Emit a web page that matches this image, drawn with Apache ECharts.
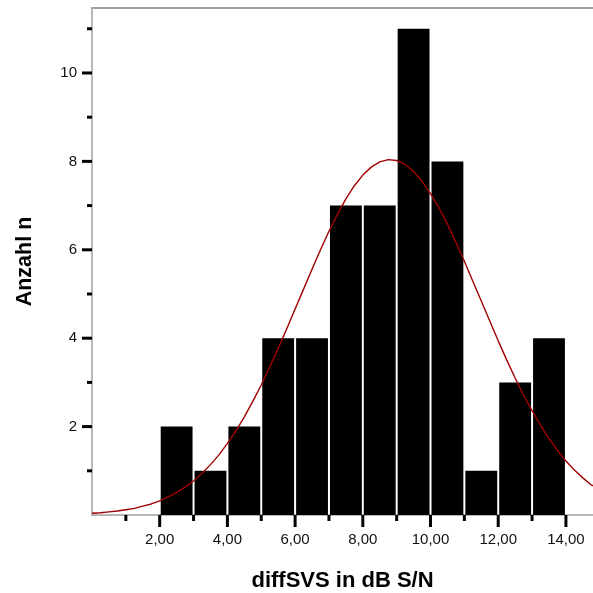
<!DOCTYPE html>
<html>
<head>
<meta charset="utf-8">
<script src="https://cdn.jsdelivr.net/npm/echarts@6/dist/echarts.min.js"></script>
<style>
html,body{margin:0;padding:0;background:#fff;}
#c{width:593px;height:593px;}
</style>
</head>
<body>
<div id="c"></div>
<script>
// Histogram bins (lower edge, upper edge) and counts
var binLower = [2, 3, 4, 5, 6, 7, 8, 9, 10, 11, 12, 13];
var binUpper = [3, 4, 5, 6, 7, 8, 9, 10, 11, 12, 13, 14];
var counts   = [2, 1, 2, 4, 4, 7, 7, 11, 8, 1, 3, 4];

// Normal curve
var curveX = [0, 0.25, 0.5, 0.75, 1, 1.25, 1.5, 1.75, 2, 2.25, 2.5, 2.75, 3, 3.25, 3.5, 3.75,
              4, 4.25, 4.5, 4.75, 5, 5.25, 5.5, 5.75, 6, 6.25, 6.5, 6.75, 7, 7.25, 7.5, 7.75,
              8, 8.25, 8.5, 8.75, 9, 9.25, 9.5, 9.75, 10, 10.25, 10.5, 10.75, 11, 11.25, 11.5, 11.75,
              12, 12.25, 12.5, 12.75, 13, 13.25, 13.5, 13.75, 14, 14.25, 14.5, 14.75, 14.8];
var curveY = [0.04, 0.05, 0.07, 0.09, 0.12, 0.15, 0.20, 0.25, 0.32, 0.41, 0.51, 0.63, 0.77, 0.94, 1.14, 1.36,
              1.62, 1.90, 2.22, 2.57, 2.94, 3.35, 3.77, 4.21, 4.66, 5.11, 5.56, 6.00, 6.42, 6.80, 7.15, 7.45,
              7.69, 7.87, 7.99, 8.04, 8.02, 7.93, 7.77, 7.55, 7.27, 6.95, 6.58, 6.17, 5.74, 5.29, 4.84, 4.39,
              3.94, 3.51, 3.10, 2.71, 2.36, 2.03, 1.73, 1.46, 1.22, 1.02, 0.84, 0.68, 0.66];

// Tick values
var xMajorTicks = [2, 4, 6, 8, 10, 12, 14];
var xMinorTicks = [1, 3, 5, 7, 9, 11, 13];
var yMajorTicks = [2, 4, 6, 8, 10];
var yMinorTicks = [1, 3, 5, 7, 9, 11];

var xTitle = 'diffSVS in dB S/N';
var yTitle = 'Anzahl n';

var FONT = 'Liberation Sans, Arial, sans-serif';
var X_MIN = 0, X_MAX = 14.8, Y_MIN = 0, Y_MAX = 11.47;

var chart = echarts.init(document.getElementById('c'), null, {renderer: 'canvas'});

function tickSeries(values, isX, len, thick) {
  return {
    type: 'custom',
    silent: true,
    z: 5,
    clip: false,
    data: values.map(function (v) { return isX ? [v, Y_MIN] : [X_MIN, v]; }),
    renderItem: function (params, api) {
      var p = api.coord([api.value(0), api.value(1)]);
      var shape = isX
        ? {x: p[0] - thick / 2, y: p[1], width: thick, height: len}
        : {x: p[0] - len, y: p[1] - thick / 2, width: len, height: thick};
      return {type: 'rect', shape: shape, style: {fill: '#000'}};
    }
  };
}

var barData = binLower.map(function (lo, i) { return [lo, binUpper[i], counts[i]]; });
var lineData = curveX.map(function (x, i) { return [x, curveY[i]]; });

var option = {
  backgroundColor: '#fff',
  animation: false,
  grid: {left: 92, right: 0, top: 8, bottom: 78, containLabel: false, outerBoundsMode: 'none'},
  xAxis: [{
    type: 'value', min: X_MIN, max: X_MAX, interval: 2,
    name: xTitle, nameLocation: 'middle', nameGap: 55,
    nameTextStyle: {fontFamily: FONT, fontSize: 22, fontWeight: 'bold', color: '#000'},
    axisLine: {show: true, onZero: false, lineStyle: {color: '#a0a0a0', width: 1.5}},
    axisTick: {show: false},
    splitLine: {show: false},
    axisLabel: {
      margin: 17, fontFamily: FONT, fontSize: 15, color: '#111',
      showMaxLabel: false,
      formatter: function (v) {
        if (xMajorTicks.indexOf(v) < 0) return '';
        return v.toFixed(2).replace('.', ',');
      }
    }
  }, {
    type: 'value', position: 'top', min: X_MIN, max: X_MAX,
    axisLine: {show: true, onZero: false, lineStyle: {color: '#a0a0a0', width: 2}},
    axisTick: {show: false}, axisLabel: {show: false}, splitLine: {show: false}
  }],
  yAxis: {
    type: 'value', min: Y_MIN, max: Y_MAX, interval: 2,
    name: yTitle, nameLocation: 'middle', nameGap: 56,
    nameTextStyle: {fontFamily: FONT, fontSize: 21.5, fontWeight: 'bold', color: '#000'},
    axisLine: {show: true, onZero: false, lineStyle: {color: '#a0a0a0', width: 1.5}},
    axisTick: {show: false},
    splitLine: {show: false},
    axisLabel: {
      margin: 15, fontFamily: FONT, fontSize: 15, color: '#111',
      showMaxLabel: false,
      formatter: function (v) {
        if (yMajorTicks.indexOf(v) < 0) return '';
        return String(v);
      }
    }
  },
  series: [
    {
      type: 'custom',
      z: 2,
      data: barData,
      encode: {x: [0, 1], y: 2},
      renderItem: function (params, api) {
        var p0 = api.coord([api.value(0), 0]);
        var p1 = api.coord([api.value(1), api.value(2)]);
        return {
          type: 'rect',
          shape: {x: p0[0] + 1, y: p1[1], width: p1[0] - p0[0] - 2, height: p0[1] - p1[1]},
          style: {fill: '#000'}
        };
      }
    },
    {
      type: 'line',
      z: 3,
      data: lineData,
      smooth: false,
      showSymbol: false,
      symbol: 'none',
      lineStyle: {color: '#a00000', width: 1.4}
    },
    tickSeries(yMajorTicks, false, 10, 3),
    tickSeries(yMinorTicks, false, 5, 3),
    tickSeries(xMajorTicks, true, 12, 3),
    tickSeries(xMinorTicks, true, 6, 3)
  ]
};
chart.setOption(option);
</script>
</body>
</html>
